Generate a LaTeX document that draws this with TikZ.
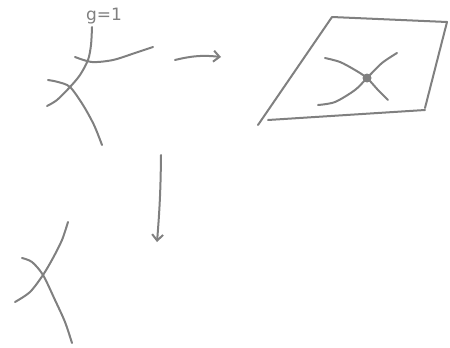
\documentclass[tikz,border=0pt]{standalone}
\usepackage{fontspec}
\setmainfont{DejaVu Sans}
\usetikzlibrary{arrows.meta}
\definecolor{pencil}{RGB}{128,128,128}
\tikzset{
  sketch/.style={draw=pencil, line width=2pt, line cap=round, line join=round},
  >={Straight Barb[length=6pt,width=11pt]},
}
\begin{document}
\begin{tikzpicture}[x=1pt, y=-1pt]
\useasboundingbox (0,0) rectangle (450,348);
% family of curves, genus label
\node[text=pencil, font=\fontsize{17}{17}\selectfont] (glabel) at (104,16) {g=1};
\draw[sketch] plot[smooth] coordinates {(92,27) (91,45) (88,60) (80,75) (70,87) (57,100) (47,106)};
\draw[sketch] plot[smooth] coordinates {(75,57) (92,62) (113,60) (135,53) (153,47)};
\draw[sketch] plot[smooth] coordinates {(48,80) (58,82) (70,87) (83,105) (94,125) (102,145)};
% plane with node
\draw[sketch] (258,125) -- (332,17) -- (447,22) -- (425,108);
\draw[sketch] (268,120) -- (425,110);
\draw[sketch] plot[smooth] coordinates {(325,58) (340,62) (355,70) (367,78) (378,90) (388,100)};
\draw[sketch] plot[smooth] coordinates {(318,105) (335,102) (355,90) (367,78) (382,63) (397,53)};
\fill[pencil] (367,78) circle (4.5);
% limit curve
\draw[sketch] plot[smooth] coordinates {(68,222) (62,240) (53,258) (43,275) (30,292) (15,302)};
\draw[sketch] plot[smooth] coordinates {(22,258) (32,262) (43,275) (55,300) (65,322) (72,343)};
% maps
\coordinate (mapr) at (175,60);
\coordinate (plane) at (221,57);
\coordinate (mapd) at (161,155);
\coordinate (limit) at (157,242);
\draw[sketch, ->] (mapr) to[bend left=10] (plane);
\draw[sketch, ->] (mapd) to[bend left=2] (limit);
\end{tikzpicture}
\end{document}
